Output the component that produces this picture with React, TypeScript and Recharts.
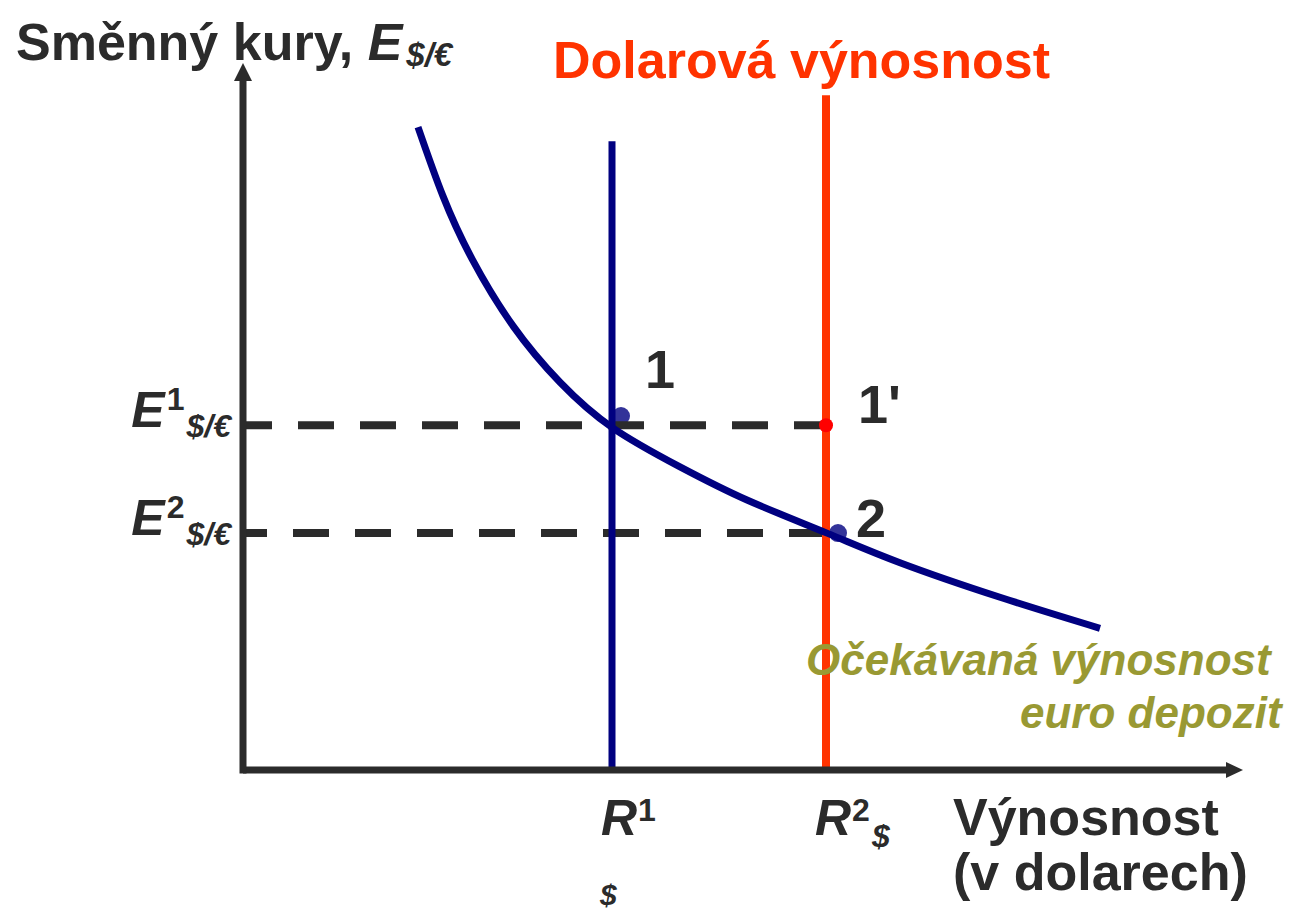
import React from "react";
import {
  ComposedChart,
  Line,
  XAxis,
  YAxis,
  ReferenceLine,
  ReferenceDot,
} from "recharts";

// euro deposit expected return curve (x = return, y = exchange rate)
const curveX = [1.75, 2.0, 2.29, 2.7, 3.17, 3.7, 4.37, 5.04, 5.84, 6.57, 7.57, 8.57];
const curveY = [9.12, 8.14, 7.25, 6.3, 5.5, 4.85, 4.3, 3.83, 3.36, 2.94, 2.45, 2.01];

// dollar returns and equilibrium rates
const R1 = 3.69;
const R2 = 5.83;
const E1 = 4.89;
const E2 = 3.36;
const R1Top = 8.92;
const R2Top = 9.57;

const xTicks = [R1, R2];
const xTickSup = ["1", "2"];
const yTicks = [E2, E1];
const yTickSup = ["2", "1"];

const curve = curveX.map((x, i) => ({ x, y: curveY[i] }));

const ink = "#2b2b2b";
const navy = "#000080";
const orange = "#ff3300";
const olive = "#999933";
const font = '"Liberation Sans", Arial, sans-serif';

function YTick(props: any) {
  const { x, y, payload } = props;
  const i = yTicks.indexOf(payload.value);
  return (
    <text x={x} y={y} textAnchor="end" fill={ink} fontFamily={font} fontWeight="bold">
      <tspan dy={2} fontSize={50} fontStyle="italic">E</tspan>
      <tspan dx={2} dy={-17} fontSize={32}>{yTickSup[i]}</tspan>
      <tspan dx={2} dy={27} fontSize={32} fontStyle="italic">$/€</tspan>
    </text>
  );
}

function XTick(props: any) {
  const { x, y, payload } = props;
  const i = xTicks.indexOf(payload.value);
  return (
    <g fill={ink} fontFamily={font} fontWeight="bold">
      <text x={x - 11} y={y + 63} fontSize={50} fontStyle="italic">
        R
        <tspan dx={1} dy={-14} fontSize={32} fontStyle="normal">{xTickSup[i]}</tspan>
        {i === 1 && (
          <tspan dx={2} dy={26} fontSize={32} fontStyle="italic">$</tspan>
        )}
      </text>
      {i === 0 && (
        <text x={x - 12} y={y + 133} fontSize={30} fontStyle="italic">$</text>
      )}
    </g>
  );
}

const upArrow = (p: any) => (
  <polygon
    points={`${p.cx},${p.cy - 2} ${p.cx - 9},${p.cy + 16} ${p.cx + 9},${p.cy + 16}`}
    fill={ink}
  />
);
const rightArrow = (p: any) => (
  <polygon
    points={`${p.cx},${p.cy} ${p.cx - 17},${p.cy - 8} ${p.cx - 17},${p.cy + 8}`}
    fill={ink}
  />
);

export default function App() {
  return (
    <div style={{ position: "absolute", left: 0, top: 0, width: 1291, height: 914, background: "#fff" }}>
      <ComposedChart
        width={1291}
        height={914}
        margin={{ top: 65, right: 48, bottom: 0, left: 0 }}
      >
        <XAxis
          type="number"
          dataKey="x"
          domain={[0, 10]}
          ticks={xTicks}
          tick={<XTick />}
          axisLine={false}
          tickLine={false}
          tickSize={0}
          height={144}
          interval={0}
        />
        <YAxis
          type="number"
          dataKey="y"
          domain={[0, 10]}
          ticks={yTicks}
          tick={<YTick />}
          axisLine={false}
          tickLine={false}
          tickSize={0}
          tickMargin={12}
          width={243}
          interval={0}
        />
        <ReferenceDot x={R1 + 0.09} y={E1 + 0.13} r={9} fill="#333399" stroke="none" ifOverflow="visible" zIndex={350} />
        <ReferenceDot x={R2 + 0.12} y={E2} r={9} fill="#333399" stroke="none" ifOverflow="visible" zIndex={350} />
        <ReferenceLine
          segment={[{ x: 0, y: E1 }, { x: R2, y: E1 }]}
          stroke={ink}
          strokeWidth={8}
          strokeDasharray="36 26"
          strokeDashoffset={7}
        />
        <ReferenceLine
          segment={[{ x: 0, y: E2 }, { x: R2, y: E2 }]}
          stroke={ink}
          strokeWidth={8}
          strokeDasharray="36 26"
          strokeDashoffset={12}
        />
        <ReferenceLine segment={[{ x: R1, y: 0 }, { x: R1, y: R1Top }]} stroke={navy} strokeWidth={7} />
        <ReferenceLine segment={[{ x: R2, y: 0 }, { x: R2, y: R2Top }]} stroke={orange} strokeWidth={8} />
        <Line
          data={curve}
          dataKey="y"
          type="natural"
          stroke={navy}
          strokeWidth={7}
          dot={false}
          activeDot={false}
          isAnimationActive={false}
        />
        <ReferenceLine segment={[{ x: 0, y: 0 }, { x: 9.85, y: 0 }]} stroke={ink} strokeWidth={7} ifOverflow="visible" />
        <ReferenceLine segment={[{ x: 0, y: -0.05 }, { x: 0, y: 9.8 }]} stroke={ink} strokeWidth={7} ifOverflow="visible" />
        <ReferenceDot x={0} y={10} r={1} shape={upArrow} ifOverflow="visible" />
        <ReferenceDot x={10} y={0} r={1} shape={rightArrow} ifOverflow="visible" />
        <ReferenceDot x={R2} y={E1} r={7} fill="#ff0000" stroke="none" ifOverflow="visible" />
      </ComposedChart>
      <svg
        width={1291}
        height={914}
        style={{ position: "absolute", left: 0, top: 0, pointerEvents: "none" }}
        fontFamily={font}
        fontWeight="bold"
      >
        <text x={16} y={60} fontSize={52} fill={ink}>
          Směnný kury,{" "}
          <tspan fontStyle="italic">E</tspan>
          <tspan dx={4} dy={6} fontSize={33} fontStyle="italic">$/€</tspan>
        </text>
        <text x={553} y={78} fontSize={52} fill={orange}>Dolarová výnosnost</text>
        <text x={645} y={388} fontSize={54} fill={ink}>1</text>
        <text x={858} y={423} fontSize={54} fill={ink}>1'</text>
        <text x={856} y={537} fontSize={54} fill={ink}>2</text>
        <text x={806} y={675} fontSize={44} fontStyle="italic" fill={olive}>Očekávaná výnosnost</text>
        <text x={1020} y={728} fontSize={44} fontStyle="italic" fill={olive}>euro depozit</text>
        <text x={953} y={835} fontSize={52} fill={ink}>Výnosnost</text>
        <text x={953} y={890} fontSize={52} fill={ink}>(v dolarech)</text>
      </svg>
    </div>
  );
}
